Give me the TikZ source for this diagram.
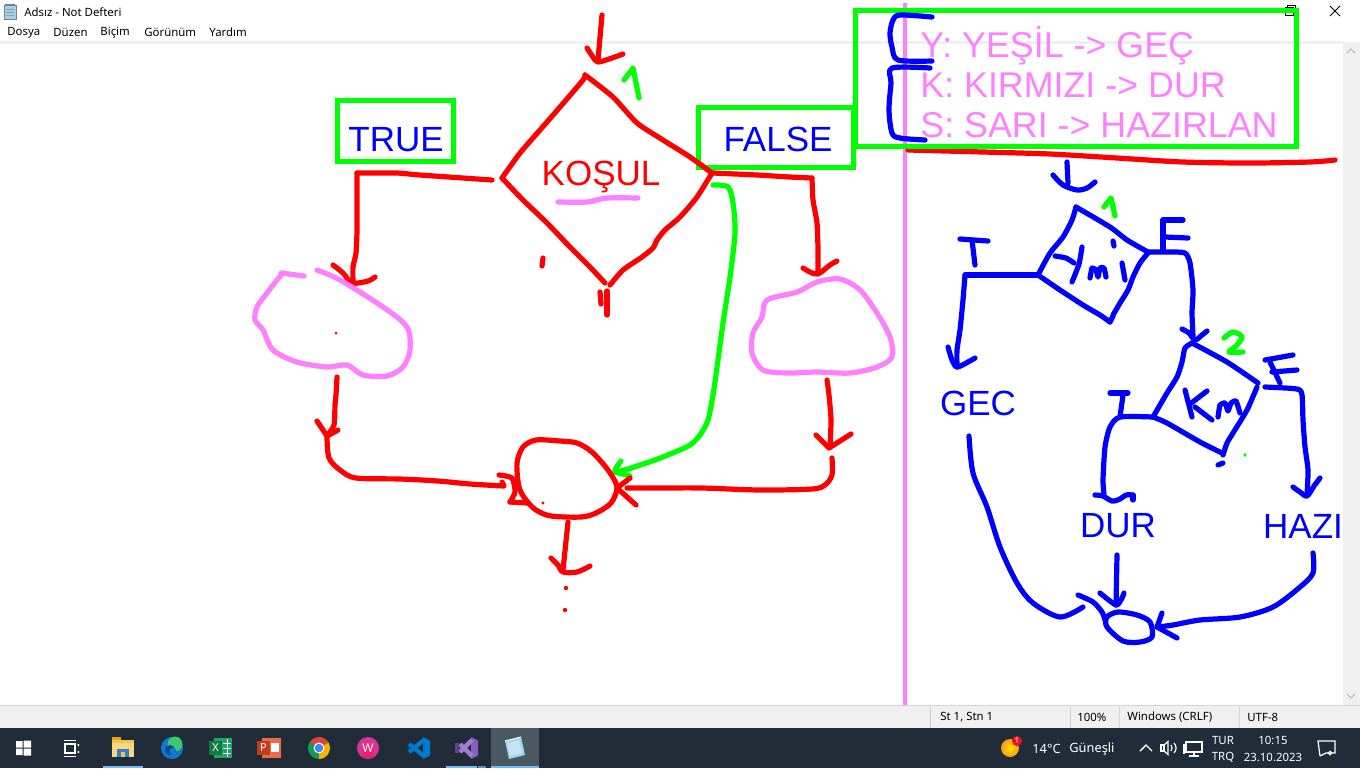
\documentclass[tikz,border=0pt]{standalone}
\usepackage{fontspec}
\setmainfont{Liberation Sans}
\newfontfamily\uifont{Noto Sans}
\definecolor{penred}{RGB}{255,0,0}
\definecolor{penblue}{RGB}{0,0,255}
\definecolor{pengreen}{RGB}{0,255,0}
\definecolor{penpink}{RGB}{255,128,255}
\definecolor{chromegray}{RGB}{240,240,240}
\definecolor{sepgray}{RGB}{210,210,210}
\definecolor{taskbar}{RGB}{32,45,56}
\definecolor{taskhl}{RGB}{74,88,98}
\definecolor{taskline}{RGB}{118,185,237}
\definecolor{folderY}{RGB}{246,196,72}
\definecolor{folderD}{RGB}{226,160,30}
\definecolor{folderB}{RGB}{48,128,210}
\definecolor{edgeB}{RGB}{14,120,212}
\definecolor{edgeG}{RGB}{60,200,110}
\definecolor{xlD}{RGB}{16,124,65}
\definecolor{xlL}{RGB}{33,163,102}
\definecolor{ppD}{RGB}{196,60,28}
\definecolor{ppL}{RGB}{237,108,71}
\definecolor{chR}{RGB}{219,68,55}
\definecolor{chG}{RGB}{15,157,88}
\definecolor{chY}{RGB}{244,180,0}
\definecolor{chB}{RGB}{66,133,244}
\definecolor{wpsP}{RGB}{220,50,150}
\definecolor{vscB}{RGB}{0,122,204}
\definecolor{vsP}{RGB}{134,95,197}
\definecolor{npB}{RGB}{160,212,236}
\definecolor{wxO}{RGB}{247,150,30}
\definecolor{badge}{RGB}{232,17,35}
\begin{document}
\begin{tikzpicture}[x=0.5pt,y=-0.5pt,
  pen/.style={line width=2.6pt,line cap=round,line join=round},
  rpen/.style={pen,draw=penred},
  bpen/.style={pen,draw=penblue},
  gpen/.style={pen,draw=pengreen},
  ppen/.style={pen,draw=penpink},
  gbox/.style={draw=pengreen,line width=2.5pt},
  big/.style={font=\fontsize{17.5}{21}\selectfont,inner sep=0pt},
  legend/.style={font=\fontsize{17.9}{21}\selectfont,inner sep=0pt,text=penpink,anchor=base west},
  ui/.style={font=\uifont\fontsize{5.7}{7}\selectfont,inner sep=0pt,text=black,anchor=west},
  tray/.style={font=\uifont\fontsize{6.4}{7}\selectfont,inner sep=0pt,text=white},
  traysm/.style={font=\uifont\fontsize{5.7}{7}\selectfont,inner sep=0pt,text=white},
  thin/.style={line width=0.5pt},
]
\useasboundingbox (0,0) rectangle (1360,768);
\fill[white] (0,0) rectangle (1360,768);

% ---------- window chrome ----------
\fill[npB] (4,5) rectangle (16,19);
\draw[thin,gray] (4,5) rectangle (16,19);
\draw[thin,gray!80] (6,9)--(14,9) (6,12)--(14,12) (6,15)--(14,15);
\draw[thin,gray] (5,4)--(15,4);
\node[ui] (title) at (24,12) {Adsız - Not Defteri};
\node[ui] (m1) at (7,32.5) {Dosya};
\node[ui] (m2) at (53,32.5) {Düzen};
\node[ui] (m3) at (100,32.5) {Biçim};
\node[ui] (m4) at (144,32.5) {Görünüm};
\node[ui] (m5) at (209,32.5) {Yardım};
\fill[chromegray] (0,41) rectangle (1343,44);
\draw[thin,black] (1285,7) rectangle (1293,15);
\draw[thin,black] (1287,7)--(1287,5)--(1295,5)--(1295,13)--(1293,13);
\draw[thin,black] (1330,6)--(1340,16) (1340,6)--(1330,16);
% scrollbar
\fill[chromegray] (1343,42) rectangle (1360,705);
\draw[thin,gray!60] (1347,53)--(1351,49)--(1355,53);
\draw[thin,gray!60] (1347,694)--(1351,698)--(1355,694);
% status bar
\fill[chromegray] (0,706) rectangle (1360,728);
\draw[thin,sepgray] (0,705.5)--(1360,705.5);
\foreach \sx in {930,1070,1119,1239} \draw[thin,sepgray] (\sx,707)--(\sx,728);
\node[ui] (st1) at (940,717.5) {St 1, Stn 1};
\node[ui] (st2) at (1077,717.5) {100\%};
\node[ui] (st3) at (1127,717.5) {Windows (CRLF)};
\node[ui] (st4) at (1247,717.5) {UTF-8};

% ---------- taskbar ----------
\fill[taskbar] (0,728) rectangle (1360,768);
\fill[taskhl] (491,728) rectangle (539,768);
\fill[taskline] (103,766) rectangle (143,768);
\fill[taskline] (446,766) rectangle (477,768);
\fill[taskline!70!taskbar] (478,766) rectangle (486,768);
\fill[taskline] (491,766) rectangle (539,768);
% windows logo
\fill[white] (16,741) rectangle (22.5,747.5) (23.5,740.5) rectangle (31,747.5)
             (16,748.5) rectangle (22.5,755) (23.5,748.5) rectangle (31,755.5);
% task view
\draw[white,line width=0.7pt] (64,740.5)--(76,740.5) (64,756.5)--(76,756.5);
\draw[white,line width=0.7pt] (65,744) rectangle (75,753);
\fill[white] (77.5,744) rectangle (79,746) (77.5,751) rectangle (79,753);
% explorer
\fill[folderD] (112,737) rectangle (121,741);
\fill[folderY] (112,740) rectangle (134,757);
\fill[folderY!70!white] (112,743) rectangle (134,757);
\fill[folderB] (117,749) rectangle (129,757);
\fill[folderY] (121,752) rectangle (125,757);
% edge
\fill[edgeB] (172,748) circle (11);
\fill[edgeG] (175,744) circle (7.5);
\fill[edgeB!60!black] (170,750) circle (5);
\fill[edgeB] (173,751) circle (3.5);
% excel
\fill[xlL] (214,738) rectangle (232,758);
\draw[white,thin] (223,743)--(231,743) (223,748)--(231,748) (223,753)--(231,753) (227,739)--(227,757);
\fill[xlD] (209,741) rectangle (222,755);
\node[font=\uifont\bfseries\fontsize{5.5}{6}\selectfont,text=white,inner sep=0pt] (xl) at (215.5,748) {X};
% powerpoint
\fill[ppL] (262,738) rectangle (281,758);
\fill[white] (271,743) rectangle (279,752);
\fill[ppD] (257,741) rectangle (270,755);
\node[font=\uifont\bfseries\fontsize{5.5}{6}\selectfont,text=white,inner sep=0pt] (pp) at (263.5,748) {P};
% chrome
\fill[chR] (319,748) -- ++(210:11) arc[start angle=210,end angle=330,radius=11] -- cycle;
\fill[chG] (319,748) -- ++(90:11) arc[start angle=90,end angle=210,radius=11] -- cycle;
\fill[chY] (319,748) -- ++(-30:11) arc[start angle=-30,end angle=90,radius=11] -- cycle;
\fill[white] (319,748) circle (5.5);
\fill[chB] (319,748) circle (4.3);
% wps
\fill[wpsP] (368,748) circle (11);
\fill[wpsP!70!red] (368,752) circle (6);
\node[font=\uifont\bfseries\fontsize{6}{6}\selectfont,text=white,inner sep=0pt] (wps) at (368,748.5) {W};
% vscode
\fill[vscB] (423,737) -- (430,740.5) -- (430,755.5) -- (423,759) -- cycle;
\draw[vscB,line width=2.2pt] (424,740)--(409,752) (424,756)--(409,744);
% visual studio
\fill[vsP] (471,737) -- (478,740.5) -- (478,755.5) -- (471,759) -- cycle;
\draw[vsP!80!white,line width=2.2pt] (472,740)--(460,752) (472,756)--(460,744);
\fill[vsP!70!black] (455,743) rectangle (459,753);
% notepad
\fill[npB] (505,741) -- (521,737) -- (525,755) -- (509,759) -- cycle;
\fill[npB!60!white] (507,743) -- (519,740) -- (522,753) -- (510,756) -- cycle;
\draw[white,thin] (505,741) -- (521,737);
% tray
\shade[inner color=yellow!80!orange,outer color=wxO] (1010,748) circle (9);
\fill[badge] (1017,741) circle (5);
\node[font=\uifont\fontsize{4}{4}\selectfont,text=white,inner sep=0pt] (bdg) at (1017,741) {1};
\node[tray,anchor=west] (temp) at (1032,749) {14°C};
\node[tray,anchor=west] (wx) at (1069,749) {Güneşli};
\draw[white,line width=0.7pt] (1140,751)--(1146,745)--(1152,751);
\draw[white,line width=0.6pt] (1161,745) rectangle (1164,751);
\draw[white,line width=0.6pt] (1164,745)--(1168,741.5)--(1168,754.5)--(1164,751);
\draw[white,line width=0.6pt] (1171,745) arc[start angle=-40,end angle=40,radius=4.5];
\draw[white,line width=0.6pt] (1174,743) arc[start angle=-45,end angle=45,radius=7];
\draw[white,line width=0.6pt] (1186,742) rectangle (1202,752) (1194,752)--(1194,756) (1189,756)--(1199,756);
\draw[white,line width=0.6pt] (1184,744)--(1184,754);
\node[traysm] (lang1) at (1223,740) {TUR};
\node[traysm] (lang2) at (1223,757) {TRQ};
\node[traysm] (time) at (1273,740) {10:15};
\node[traysm] (date) at (1273,757) {23.10.2023};
\draw[white,line width=0.6pt] (1320,756)--(1318,741)--(1335,741)--(1335,753)--(1326,753)--(1320,756);
\draw[white,line width=0.5pt] (1330,753) circle (1.8);

% ---------- divider and legend ----------
\draw[ppen,line width=2pt,line cap=butt] (905,3)--(905,705);
\draw[rpen] plot[smooth,tension=0.5] coordinates {(908,150)(983,152)(1050,154)(1117,158)(1183,162)(1250,163)(1310,162)(1335,160)};
\draw[gbox] (855,10) rectangle (1296,146);
\draw[bpen] plot[smooth,tension=0.5] coordinates {(932,17)(900,15)(893,20)(890,33)(892,47)(898,60)(932,61)};
\draw[bpen] plot[smooth,tension=0.5] coordinates {(930,68)(892,68)(891,83)(889,110)(892,133)(900,138)(925,140)};
\node[legend] (leg1) at (920,57) {Y: YEŞİL -> GEÇ};
\node[legend] (leg2) at (920,97) {K: KIRMIZI -> DUR};
\node[legend] (leg3) at (920,137) {S: SARI -> HAZIRLAN};

% ---------- left flowchart ----------
\draw[gbox] (337,100) rectangle (453,161);
\draw[gbox] (698,107) rectangle (853,167);
\node[big,text=penblue,anchor=base] (true) at (396,151) {TRUE};
\node[big,text=penblue,anchor=base] (false) at (778,151) {FALSE};
% entry arrow
\draw[rpen] (602,15)--(598,60);
\draw[rpen] plot[smooth,tension=0.5] coordinates {(587,48)(593,57)(598,62)(612,58)(623,54)};
\draw[gpen] (624,80)--(633,68)--(639,98);
% diamond
\draw[rpen] plot[smooth,tension=0.4] coordinates {(585,75)(613,97)(637,123)(663,140)(690,157)(712,173)};
\draw[rpen] plot[smooth,tension=0.4] coordinates {(712,173)(697,197)(680,217)(665,230)(657,240)(653,248)(642,257)(623,270)(610,285)};
\draw[rpen] plot[smooth,tension=0.4] coordinates {(605,283)(590,267)(570,247)(547,223)(523,200)(502,178)};
\draw[rpen] plot[smooth,tension=0.4] coordinates {(502,178)(520,153)(540,130)(560,107)(583,80)(585,75)};
\node[big,text=penred,anchor=base] (kosul) at (601,185) {KOŞUL};
\draw[ppen] plot[smooth,tension=0.5] coordinates {(558,202)(587,202)(607,198)(638,198)};
\draw[rpen] (543,258)--(542,266);
\draw[rpen] (600,292)--(601,304);
\draw[rpen] (607,291)--(607,315);
\fill[penred] (491,181) circle (1.6);
% true branch
\draw[rpen] plot[smooth,tension=0.4] coordinates {(492,180)(420,175)(397,173)(357,173)};
\draw[rpen] plot[smooth,tension=0.4] coordinates {(357,173)(357,190)(357,230)(356,253)(353,267)(353,283)};
\draw[rpen] plot[smooth,tension=0.5] coordinates {(333,265)(343,273)(352,283)(368,281)(375,277)};
% left cloud
\draw[ppen] (281,273)--(304,276);
\draw[ppen] plot[smooth,tension=0.5] coordinates {(317,270)(340,280)(383,307)(407,327)(410,350)(403,367)(387,376)(363,375)(347,365)(327,367)(297,362)(273,350)(263,330)(255,320)(257,307)(267,293)(277,280)(283,273)};
\fill[penred] (336,333) circle (1.5);
% false branch
\draw[rpen] plot[smooth,tension=0.4] coordinates {(713,173)(757,175)(790,177)(812,178)};
\draw[rpen] plot[smooth,tension=0.4] coordinates {(812,178)(813,200)(817,223)(818,250)(818,272)};
\draw[rpen] plot[smooth,tension=0.5] coordinates {(803,268)(810,272)(818,274)(830,265)(837,261)};
% right cloud
\draw[ppen] plot[smooth cycle,tension=0.5] coordinates {(767,300)(797,292)(817,282)(840,279)(860,290)(877,313)(890,337)(892,357)(877,367)(850,373)(817,372)(787,373)(763,370)(752,353)(753,333)(762,317)};
% green bypass
\draw[gpen] plot[smooth,tension=0.5] coordinates {(713,185)(728,187)(733,203)(735,233)(730,277)(723,323)(718,360)(713,395)(708,420)(700,435)(690,445)(675,452)(655,460)(640,465)(628,469)(617,472)};
\draw[gpen] plot[smooth,tension=0.4] coordinates {(621,461)(616,468)(615,472)(623,474)(630,476)};
% left down to end
\draw[rpen] plot[smooth,tension=0.4] coordinates {(337,377)(336,395)(335,405)(334,425)(327,436)};
\draw[rpen] (317,421)--(327,436)--(338,430);
\draw[rpen] plot[smooth,tension=0.5] coordinates {(327,437)(329,458)(340,470)(356,478)(400,479)(438,481)(470,484)(503,486)};
\draw[rpen] plot[smooth,tension=0.4] coordinates {(499,475)(512,478)(515,492)(510,502)};
\draw[rpen] (510,502)--(528,503);
\draw[rpen] (502,482)--(504,486);
% end circle
\draw[rpen] plot[smooth cycle,tension=0.5] coordinates {(536,440)(560,441)(577,443)(592,452)(608,470)(617,487)(611,503)(596,513)(581,517)(551,516)(536,510)(526,500)(519,487)(517,463)(523,447)};
\fill[penred] (543,503) circle (1.6);
% right down to end
\draw[rpen] plot[smooth,tension=0.4] coordinates {(827,380)(829,395)(831,420)(830,447)};
\draw[rpen] (816,435)--(829,448)--(851,434);
\draw[rpen] plot[smooth,tension=0.5] coordinates {(832,458)(832,475)(825,485)(812,489)(760,490)(702,488)(660,488)(627,488)};
\draw[rpen] (630,478)--(617,488)--(636,505);
% exit arrow
\draw[rpen] (568,522)--(563,570);
\draw[rpen] plot[smooth,tension=0.5] coordinates {(551,558)(558,565)(563,572)(577,572)(590,566)};
\fill[penred] (566,588) circle (2.2);
\fill[penred] (565,610) circle (2.2);

% ---------- right flowchart ----------
\draw[bpen] (1067,162)--(1068,183);
\draw[bpen] plot[smooth,tension=0.5] coordinates {(1053,175)(1063,185)(1077,190)(1087,188)(1095,182)};
\draw[gpen] (1104,207)--(1111,198)--(1115,216);
% diamond 1
\draw[bpen] plot[smooth,tension=0.4] coordinates {(1076,207)(1110,227)(1127,240)(1148,252)};
\draw[bpen] plot[smooth,tension=0.4] coordinates {(1148,253)(1140,263)(1133,277)(1128,290)(1120,303)(1113,315)};
\draw[bpen] (1110,322)--(1113,316);
\draw[bpen] plot[smooth,tension=0.4] coordinates {(1110,322)(1100,315)(1083,305)(1060,290)(1038,275)};
\draw[bpen] plot[smooth,tension=0.4] coordinates {(1038,275)(1050,253)(1063,237)(1072,220)(1076,207)};
% Ymi
\draw[bpen] plot[smooth,tension=0.4] coordinates {(1055,256)(1066,258)(1074,263)};
\draw[bpen] plot[smooth,tension=0.4] coordinates {(1082,247)(1079,264)(1072,282)};
\draw[bpen] plot[smooth,tension=0.3] coordinates {(1090,278)(1092,268)(1096,270)(1098,277)(1100,268)(1104,268)(1106,277)};
\draw[bpen] (1113,241)--(1114,246);
\draw[bpen] (1122,263)--(1125,280);
% T branch 1
\draw[bpen] (960,239)--(988,241);
\draw[bpen] (972,240)--(975,265);
\draw[bpen] plot[smooth,tension=0.4] coordinates {(1038,275)(1000,275)(965,275)};
\draw[bpen] plot[smooth,tension=0.4] coordinates {(965,275)(963,300)(960,330)(957,350)(957,367)};
\draw[bpen] plot[smooth,tension=0.5] coordinates {(948,347)(952,360)(957,367)(968,362)(975,358)};
% F branch 1
\draw[bpen] (1183,220)--(1163,220)--(1163,250);
\draw[bpen] (1165,237)--(1188,238);
\draw[bpen] plot[smooth,tension=0.4] coordinates {(1148,252)(1170,252)(1185,253)(1190,263)(1193,290)(1192,313)(1193,336)};
\draw[bpen] plot[smooth,tension=0.5] coordinates {(1182,329)(1189,333)(1195,340)(1202,335)(1207,331)};
\draw[gpen] plot[smooth,tension=0.5] coordinates {(1224,338)(1233,332)(1242,337)(1236,346)(1229,352)(1243,352)};
% diamond 2
\draw[bpen] plot[smooth,tension=0.4] coordinates {(1192,343)(1227,362)(1258,383)};
\draw[bpen] plot[smooth,tension=0.4] coordinates {(1257,387)(1247,410)(1233,433)(1227,443)(1223,455)};
\draw[bpen] (1218,465)--(1223,463);
\draw[bpen] plot[smooth,tension=0.4] coordinates {(1222,453)(1200,442)(1167,423)(1153,417)};
\draw[bpen] plot[smooth,tension=0.4] coordinates {(1153,417)(1167,393)(1177,377)(1182,362)(1185,348)(1192,343)};
% Km
\draw[bpen] (1185,390)--(1192,417);
\draw[bpen] (1190,404)--(1207,391);
\draw[bpen] (1195,407)--(1212,420);
\draw[bpen] plot[smooth,tension=0.3] coordinates {(1218,417)(1220,405)(1225,403)(1228,411)(1231,403)(1236,401)(1240,413)};
\fill[pengreen] (1245,455) circle (1.8);
% T branch 2
\draw[bpen] (1110,393)--(1128,393);
\draw[bpen] (1123,395)--(1120,417);
\draw[bpen] plot[smooth,tension=0.4] coordinates {(1153,417)(1120,417)(1110,427)(1105,447)(1103,480)(1104,494)};
\draw[bpen] plot[smooth,tension=0.5] coordinates {(1095,495)(1103,496)(1112,501)(1120,499)(1126,495)(1133,495)};
\draw[bpen] (1133,495)--(1133,500);
% F branch 2
\draw[bpen] (1265,360)--(1293,355);
\draw[bpen] (1272,372)--(1297,370);
\draw[bpen] (1270,362)--(1280,383);
\draw[bpen] plot[smooth,tension=0.4] coordinates {(1265,387)(1297,389)(1302,395)(1303,420)(1305,447)(1308,470)(1307,495)};
\draw[bpen] plot[smooth,tension=0.5] coordinates {(1293,487)(1300,492)(1307,496)(1314,486)(1320,478)};
% labels
\node[big,text=penblue,anchor=base] (gec) at (978,415) {GEC};
\node[big,text=penblue,anchor=base] (dur) at (1118,537) {DUR};
\node[big,text=penblue,anchor=base] (hazi) at (1303,538) {HAZI};
% GEC to end
\draw[bpen] plot[smooth,tension=0.5] coordinates {(969,436)(973,473)(987,507)(1000,547)(1017,583)(1033,603)(1060,617)(1083,607)};
\draw[bpen] plot[smooth,tension=0.5] coordinates {(1078,595)(1093,602)(1102,612)(1105,620)};
% DUR to end
\draw[bpen] (1117,555)--(1116,605);
\draw[bpen] plot[smooth,tension=0.5] coordinates {(1100,593)(1110,601)(1117,605)(1122,598)(1124,593)};
% end loop
\draw[bpen] plot[smooth cycle,tension=0.5] coordinates {(1107,617)(1118,612)(1137,615)(1150,622)(1152,637)(1140,642)(1123,641)(1107,627)};
% HAZI to end
\draw[bpen] plot[smooth,tension=0.5] coordinates {(1313,553)(1313,573)(1300,587)(1273,607)(1240,617)(1200,620)(1173,625)(1157,627)};
\draw[bpen] (1162,613)--(1157,627)--(1177,638);
\end{tikzpicture}
\end{document}
